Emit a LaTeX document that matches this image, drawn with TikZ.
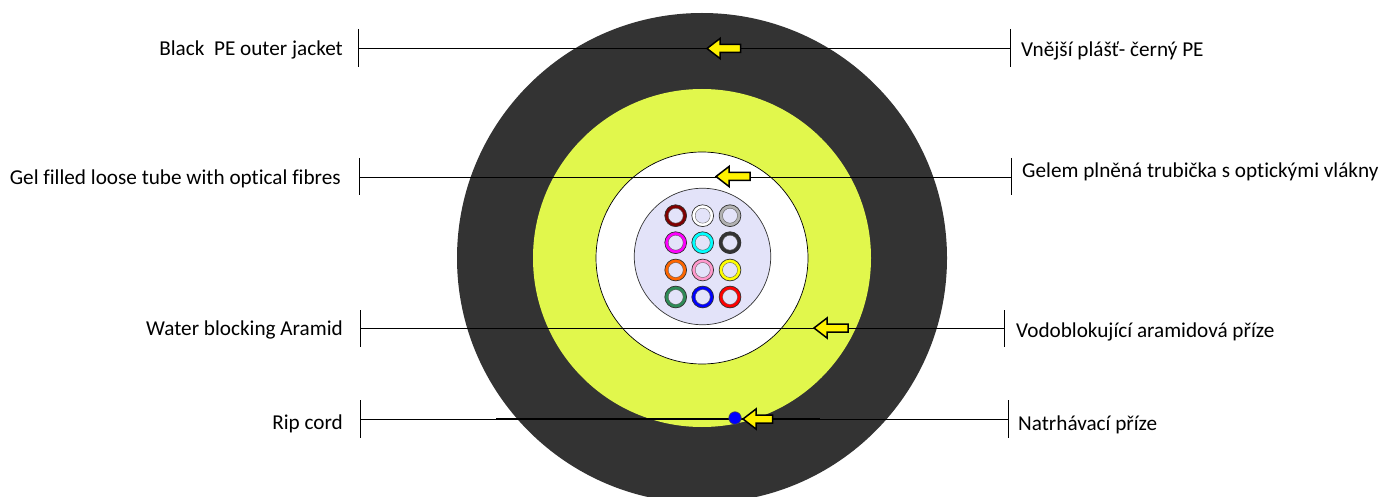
\documentclass[tikz,border=0pt]{standalone}
\usepackage{fontspec}
\setmainfont[Ligatures=NoCommon]{Carlito}
\tikzset{
  disc/.style={circle,inner sep=0pt,outer sep=0pt,minimum size=#1*1pt},
  lbl/.style={font=\fontsize{21.2}{25}\selectfont,text=black,inner sep=0pt,anchor=base},
  leader/.style={draw=black,line width=0.8pt},
  fib/.style={circle,inner sep=0pt,outer sep=0pt,minimum size=18.4pt,line width=3.5pt,fill=none},
  fibedge/.style={circle,inner sep=0pt,outer sep=0pt,minimum size=21.8pt,draw=black!80,line width=0.7pt},
  fibin/.style={circle,inner sep=0pt,outer sep=0pt,minimum size=15pt,draw=black!60,line width=0.4pt},
  yarrow/.style={fill=yellow,draw=black,line width=1.5pt,line join=miter}
}
\definecolor{jacket}{RGB}{51,51,51}
\definecolor{gel}{RGB}{225,247,76}
\definecolor{core}{RGB}{227,227,249}
\newcommand{\fibre}[4]{%
  \node[fib,draw=#3] (#4) at (#1,#2) {};
  \node[fibedge] at (#1,#2) {};
  \node[fibin] at (#1,#2) {};
}
\newcommand{\yarrowat}[3]{% tip x, y, tail x
  \draw[yarrow] (#1,#2) -- (#1+13,#2-10) -- (#1+13,#2-4) -- (#3,#2-4) -- (#3,#2+4) -- (#1+13,#2+4) -- (#1+13,#2+10) -- cycle;
}
\definecolor{f1}{RGB}{128,0,0}
\definecolor{f2}{RGB}{255,255,255}
\definecolor{f3}{RGB}{178,178,178}
\definecolor{f4}{RGB}{255,0,255}
\definecolor{f5}{RGB}{0,255,255}
\definecolor{f6}{RGB}{51,51,51}
\definecolor{f7}{RGB}{255,102,0}
\definecolor{f8}{RGB}{255,153,204}
\definecolor{f9}{RGB}{255,255,0}
\definecolor{f10}{RGB}{46,139,87}
\definecolor{f11}{RGB}{0,0,255}
\definecolor{f12}{RGB}{255,0,0}
\begin{document}
\begin{tikzpicture}[x=1pt,y=-1pt]
\useasboundingbox (0,0) rectangle (1382,497);
\begin{scope}
\clip (0,0) rectangle (1382,497);
\node[disc=490,fill=jacket] (outer) at (702,258) {};
\node[disc=338,fill=gel] (gelring) at (702,258) {};
\node[disc=212,fill=white,draw=black,line width=0.7pt] (tube) at (702,258) {};
\end{scope}
\node[disc=136.5,fill=core,draw=black!80,line width=0.7pt] (core) at (702.5,256.5) {};
\fibre{675.7}{215.7}{f1}{a1}
\fibre{702.7}{215.7}{f2}{a2}
\fibre{730}{215.7}{f3}{a3}
\fibre{675.7}{242.7}{f4}{b1}
\fibre{702.7}{242.7}{f5}{b2}
\fibre{730}{242.7}{f6}{b3}
\fibre{675.7}{270}{f7}{c1}
\fibre{702.7}{270}{f8}{c2}
\fibre{730}{270}{f9}{c3}
\fibre{675.7}{297}{f10}{d1}
\fibre{702.7}{297}{f11}{d2}
\fibre{730}{297}{f12}{d3}
% leaders
\coordinate (l1t) at (358,29); \coordinate (l1) at (358,48); \coordinate (l1b) at (358,67);
\coordinate (r1t) at (1010,29); \coordinate (r1) at (1010,48); \coordinate (r1b) at (1010,67);
\coordinate (l2t) at (359,158); \coordinate (l2) at (359,177); \coordinate (l2b) at (359,195);
\coordinate (r2t) at (1011,158); \coordinate (r2) at (1011,177); \coordinate (r2b) at (1011,195);
\coordinate (l3t) at (360,310); \coordinate (l3) at (360,328); \coordinate (l3b) at (360,347);
\coordinate (r3t) at (1004,310); \coordinate (r3) at (1004,328); \coordinate (r3b) at (1004,347);
\coordinate (l4t) at (360,400); \coordinate (l4) at (360,419); \coordinate (l4b) at (360,438);
\coordinate (r4t) at (1008,400); \coordinate (r4) at (1008,419); \coordinate (r4b) at (1008,438);
\coordinate (c4a) at (496,419); \coordinate (c4b) at (820,419);
\draw[leader] (l1t) -- (l1b); \draw[leader] (r1t) -- (r1b); \draw[leader] (l1) -- (r1);
\draw[leader] (l2t) -- (l2b); \draw[leader] (r2t) -- (r2b); \draw[leader] (l2) -- (r2);
\draw[leader] (l3t) -- (l3b); \draw[leader] (r3t) -- (r3b); \draw[leader] (l3) -- (r3);
\draw[leader] (l4t) -- (l4b); \draw[leader] (r4t) -- (r4b); \draw[leader] (l4) -- (r4);
\draw[black,line width=1.4pt] (c4a) -- (c4b);
% arrows
\yarrowat{707}{48.5}{740.5}
\yarrowat{716}{176.5}{750}
\yarrowat{814}{328}{848}
\yarrowat{743}{419}{772.5}
\node[disc=12.5,fill=blue,draw=black!70,line width=0.6pt] (rip) at (735,418) {};
% labels
\node[lbl,anchor=base east] (tl1) at (343,55.5) {Black\ \ PE outer jacket};
\node[lbl,anchor=base west] (tr1) at (1021,56.5) {Vnější plášť- černý PE};
\node[lbl,anchor=base east] (tl2) at (341,184.5) {Gel filled loose tube with optical fibres};
\node[lbl,anchor=base west] (tr2) at (1022,177.5) {Gelem plněná trubička s optickými vlákny};
\node[lbl,anchor=base east] (tl3) at (343,335.5) {Water blocking Aramid};
\node[lbl,anchor=base west] (tr3) at (1016,337) {Vodoblokující aramidová příze};
\node[lbl,anchor=base east] (tl4) at (343,429) {Rip cord};
\node[lbl,anchor=base west] (tr4) at (1018,430) {Natrhávací příze};
\end{tikzpicture}
\end{document}
